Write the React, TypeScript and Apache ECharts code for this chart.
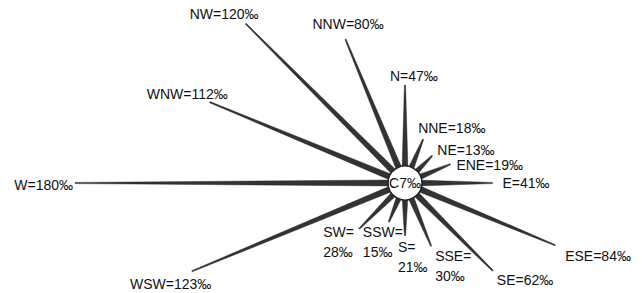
import React, { useEffect, useRef } from "react";
import * as echarts from "echarts";

const directions = ["N", "NNE", "NE", "ENE", "E", "ESE", "SE", "SSE", "S", "SSW", "SW", "WSW", "W", "WNW", "NW", "NNW"];
const frequencies = [47, 18, 13, 19, 41, 84, 62, 30, 21, 15, 28, 123, 180, 112, 120, 80];
const calm = 7;
const unit = "‰";

// label placement relative to the spike tip (style only)
const labelLayout: Record<string, { dx: number; dy: number; align: string; wrap?: boolean }> = {
  N: { dx: -15, dy: -9, align: "left" },
  NNE: { dx: -5, dy: -11, align: "left" },
  NE: { dx: 5, dy: -6, align: "left" },
  ENE: { dx: 6, dy: 1, align: "left" },
  E: { dx: 10, dy: 0, align: "left" },
  ESE: { dx: 10, dy: 11, align: "left" },
  SE: { dx: 4, dy: 9, align: "left" },
  SSE: { dx: 4, dy: 20, align: "left", wrap: true },
  S: { dx: -7, dy: 21, align: "left", wrap: true },
  SSW: { dx: -26, dy: 20, align: "left", wrap: true },
  SW: { dx: -36, dy: 13, align: "left", wrap: true },
  WSW: { dx: -62, dy: 13, align: "left" },
  W: { dx: -2, dy: 2, align: "right" },
  WNW: { dx: -63, dy: -8, align: "left" },
  NW: { dx: -56, dy: -10, align: "left" },
  NNW: { dx: -33, dy: -15, align: "left" },
};

const FONT = '14px "Liberation Sans", Arial, sans-serif';

export default function App() {
  const ref = useRef<HTMLDivElement>(null);
  useEffect(() => {
    if (!ref.current) return;
    const chart = echarts.init(ref.current, undefined, { renderer: "svg" });
    const cx = 405;
    const cy = 183;
    const r0 = 16;
    chart.setOption({
      animation: false,
      backgroundColor: "#ffffff",
      polar: { center: [cx, cy], radius: [r0, 330] },
      angleAxis: {
        type: "category",
        data: directions,
        startAngle: 90,
        clockwise: true,
        boundaryGap: false,
        axisLine: { show: false },
        axisTick: { show: false },
        axisLabel: { show: false },
        splitLine: { show: false },
      },
      radiusAxis: {
        type: "value",
        min: 0,
        max: 180,
        axisLine: { show: false },
        axisTick: { show: false },
        axisLabel: { show: false },
        splitLine: { show: false },
      },
      series: [
        {
          type: "custom",
          coordinateSystem: "polar",
          data: frequencies.map((v, i) => [v, i]),
          encode: { radius: 0, angle: 1 },
          renderItem: (params: any, api: any) => {
            const i = params.dataIndex;
            const v = api.value(0);
            const tip = api.coord([v, i]);
            const base = api.coord([0, i]);
            const dx = tip[0] - base[0];
            const dy = tip[1] - base[1];
            const len = Math.sqrt(dx * dx + dy * dy) || 1;
            const ux = dx / len;
            const uy = dy / len;
            const px = -uy;
            const py = ux;
            const bw = 3.0;
            const tw = 0.6;
            const b0 = [base[0] - ux * 4, base[1] - uy * 4];
            const pts = [
              [b0[0] + px * bw, b0[1] + py * bw],
              [tip[0] + px * tw, tip[1] + py * tw],
              [tip[0] - px * tw, tip[1] - py * tw],
              [b0[0] - px * bw, b0[1] - py * bw],
            ];
            const dir = directions[i];
            const lay = labelLayout[dir];
            const text = lay.wrap ? `${dir}=\n${v}${unit}` : `${dir}=${v}${unit}`;
            return {
              type: "group",
              children: [
                {
                  type: "polygon",
                  shape: { points: pts },
                  style: { fill: "#333333", stroke: "#1a1a1a", lineWidth: 0.4 },
                },
                {
                  type: "text",
                  x: tip[0] + lay.dx,
                  y: tip[1] + lay.dy,
                  style: {
                    text,
                    font: FONT,
                    fill: "#111",
                    align: lay.align,
                    verticalAlign: "middle",
                    lineHeight: 20,
                  },
                },
              ],
            };
          },
        },
      ],
      graphic: [
        {
          type: "circle",
          z: 100,
          shape: { cx, cy, r: r0 + 1 },
          style: { fill: "#ffffff", stroke: "#222", lineWidth: 1.5 },
        },
        {
          type: "text",
          z: 101,
          x: cx,
          y: cy,
          style: {
            text: `C${calm}${unit}`,
            font: FONT,
            fill: "#111",
            align: "center",
            verticalAlign: "middle",
          },
        },
      ],
    });
    return () => chart.dispose();
  }, []);
  return (
    <div
      ref={ref}
      style={{ position: "fixed", left: 0, top: 0, width: 642, height: 293, background: "#fff" }}
    />
  );
}
